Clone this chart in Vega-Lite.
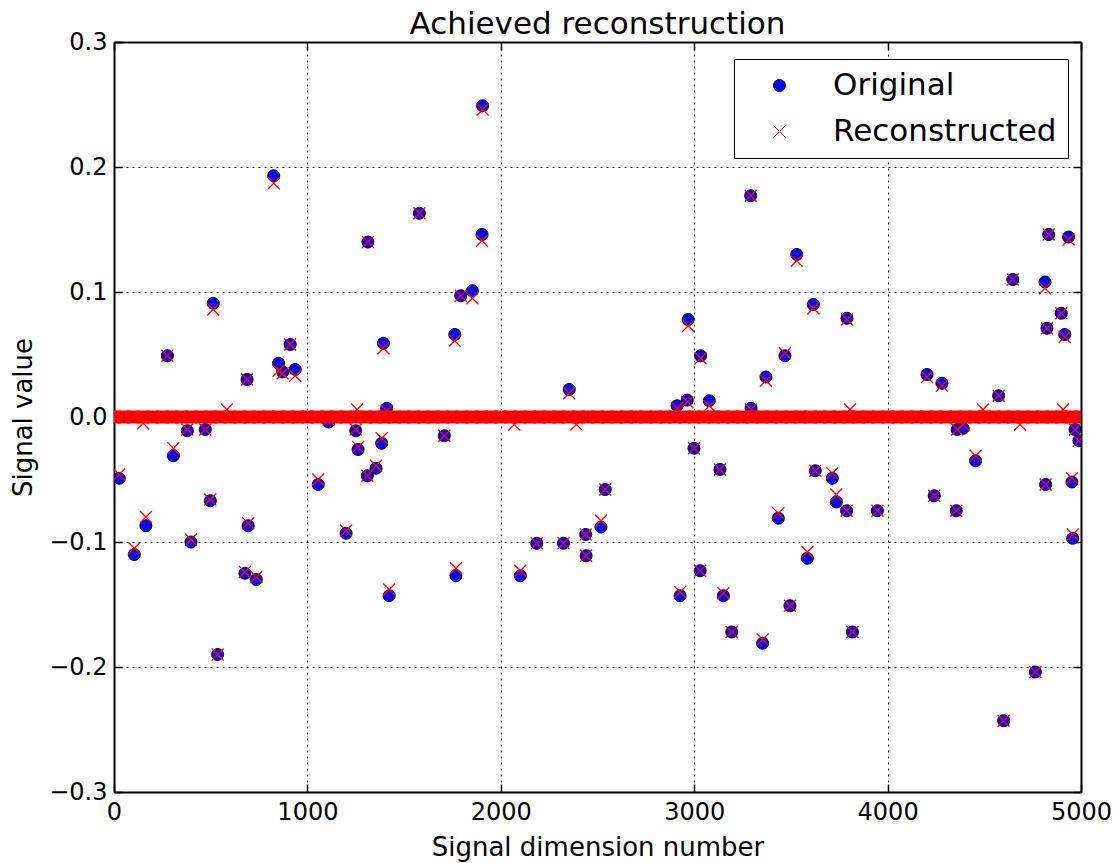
{
  "$schema": "https://vega.github.io/schema/vega-lite/v6.json",
  "autosize": "none",
  "padding": {"left": 114, "top": 42, "right": 38, "bottom": 71},
  "width": 967,
  "height": 750,
  "background": "white",
  "title": {"text": "Achieved reconstruction", "fontSize": 31, "fontWeight": "normal", "color": "black", "offset": -11, "anchor": "middle"},
  "config": {
    "font": "DejaVu Sans",
    "view": {"stroke": null},
    "axis": {
      "domain": true, "domainColor": "black", "domainWidth": 2,
      "grid": true, "gridColor": "black", "gridDash": [2, 4], "gridWidth": 1, "gridOpacity": 1,
      "ticks": true, "tickColor": "black", "tickSize": -8, "tickWidth": 1.5,
      "labelFontSize": 24, "labelColor": "black", "labelFlush": false,
      "titleFontSize": 26, "titleFontWeight": "normal", "titleColor": "black",
      "zindex": 1
    },
    "legend": {
      "orient": "none", "title": null,
      "labelFontSize": 31, "labelColor": "black", "labelLimit": 400,
      "symbolSize": 144, "symbolStrokeWidth": 1, "symbolOffset": 19, "labelOffset": 38,
      "rowPadding": 14, "padding": 11, "strokeColor": "black", "fillColor": "white"
    }
  },
  "datasets": {
    "sig": [
      {"i":27,"o":-0.049,"r":-0.046},
      {"i":105,"o":-0.110,"r":-0.105},
      {"i":151,"r":-0.005},
      {"i":165,"o":-0.087,"r":-0.080},
      {"i":276,"o":0.049,"r":0.049},
      {"i":307,"o":-0.031,"r":-0.025},
      {"i":379,"o":-0.011,"r":-0.010},
      {"i":398,"o":-0.100,"r":-0.098},
      {"i":472,"o":-0.010,"r":-0.010},
      {"i":498,"o":-0.067,"r":-0.066},
      {"i":513,"o":0.091,"r":0.086},
      {"i":536,"o":-0.190,"r":-0.190},
      {"i":583,"r":0.006},
      {"i":677,"o":-0.125,"r":-0.124},
      {"i":688,"o":0.030,"r":0.030},
      {"i":694,"o":-0.087,"r":-0.085},
      {"i":736,"o":-0.130,"r":-0.128},
      {"i":826,"o":0.193,"r":0.187},
      {"i":851,"o":0.043,"r":0.037},
      {"i":872,"o":0.036,"r":0.035},
      {"i":911,"o":0.058,"r":0.058},
      {"i":937,"o":0.038,"r":0.033},
      {"i":1056,"o":-0.054,"r":-0.050},
      {"i":1110,"o":-0.004,"r":-0.002},
      {"i":1200,"o":-0.093,"r":-0.091},
      {"i":1250,"o":-0.011,"r":-0.010},
      {"i":1257,"r":0.006},
      {"i":1262,"o":-0.026,"r":-0.024},
      {"i":1310,"o":-0.047,"r":-0.047},
      {"i":1313,"o":0.140,"r":0.140},
      {"i":1355,"o":-0.041,"r":-0.039},
      {"i":1384,"o":-0.021,"r":-0.017},
      {"i":1393,"o":0.059,"r":0.055},
      {"i":1410,"o":0.007,"r":0.005},
      {"i":1423,"o":-0.143,"r":-0.138},
      {"i":1579,"o":0.163,"r":0.163},
      {"i":1708,"o":-0.015,"r":-0.015},
      {"i":1762,"o":0.066,"r":0.061},
      {"i":1768,"o":-0.127,"r":-0.121},
      {"i":1793,"o":0.097,"r":0.097},
      {"i":1853,"o":0.101,"r":0.095},
      {"i":1903,"o":0.146,"r":0.141},
      {"i":1906,"o":0.249,"r":0.246},
      {"i":2070,"r":-0.006},
      {"i":2101,"o":-0.127,"r":-0.123},
      {"i":2186,"o":-0.101,"r":-0.101},
      {"i":2324,"o":-0.101,"r":-0.101},
      {"i":2354,"o":0.022,"r":0.019},
      {"i":2391,"r":-0.006},
      {"i":2439,"o":-0.094,"r":-0.094},
      {"i":2441,"o":-0.111,"r":-0.111},
      {"i":2518,"o":-0.088,"r":-0.083},
      {"i":2540,"o":-0.058,"r":-0.058},
      {"i":2912,"o":0.009,"r":0.007},
      {"i":2927,"o":-0.143,"r":-0.140},
      {"i":2964,"o":0.0135,"r":0.012},
      {"i":2969,"o":0.078,"r":0.073},
      {"i":2999,"o":-0.025,"r":-0.025},
      {"i":3031,"o":-0.123,"r":-0.123},
      {"i":3033,"o":0.049,"r":0.047},
      {"i":3078,"o":0.013,"r":0.009},
      {"i":3133,"o":-0.042,"r":-0.042},
      {"i":3151,"o":-0.143,"r":-0.141},
      {"i":3194,"o":-0.172,"r":-0.172},
      {"i":3292,"o":0.177,"r":0.177},
      {"i":3294,"o":0.007,"r":0.006},
      {"i":3354,"o":-0.181,"r":-0.178},
      {"i":3371,"o":0.032,"r":0.029},
      {"i":3435,"o":-0.081,"r":-0.077},
      {"i":3469,"o":0.049,"r":0.051},
      {"i":3495,"o":-0.151,"r":-0.151},
      {"i":3530,"o":0.130,"r":0.125},
      {"i":3585,"o":-0.113,"r":-0.108},
      {"i":3616,"o":0.090,"r":0.087},
      {"i":3626,"o":-0.043,"r":-0.043},
      {"i":3714,"o":-0.049,"r":-0.045},
      {"i":3735,"o":-0.068,"r":-0.062},
      {"i":3788,"o":-0.075,"r":-0.075},
      {"i":3790,"o":0.079,"r":0.078},
      {"i":3806,"r":0.006},
      {"i":3818,"o":-0.172,"r":-0.172},
      {"i":3947,"o":-0.075,"r":-0.075},
      {"i":4204,"o":0.034,"r":0.032},
      {"i":4241,"o":-0.063,"r":-0.063},
      {"i":4281,"o":0.027,"r":0.025},
      {"i":4355,"o":-0.075,"r":-0.075},
      {"i":4360,"o":-0.010,"r":-0.010},
      {"i":4391,"o":-0.009,"r":-0.006},
      {"i":4455,"o":-0.035,"r":-0.031},
      {"i":4493,"r":0.006},
      {"i":4574,"o":0.017,"r":0.017},
      {"i":4600,"o":-0.243,"r":-0.243},
      {"i":4647,"o":0.110,"r":0.110},
      {"i":4685,"r":-0.006},
      {"i":4764,"o":-0.204,"r":-0.204},
      {"i":4814,"o":0.108,"r":0.103},
      {"i":4817,"o":-0.054,"r":-0.054},
      {"i":4824,"o":0.071,"r":0.071},
      {"i":4833,"o":0.146,"r":0.146},
      {"i":4898,"o":0.083,"r":0.083},
      {"i":4907,"r":0.006},
      {"i":4916,"o":0.066,"r":0.064},
      {"i":4936,"o":0.144,"r":0.142},
      {"i":4953,"o":-0.052,"r":-0.049},
      {"i":4957,"o":-0.097,"r":-0.094},
      {"i":4969,"o":-0.010,"r":-0.010},
      {"i":4989,"o":-0.019,"r":-0.019}
    ],
    "band": [
      {"i":0,"r":0},{"i":50,"r":0},{"i":100,"r":0},{"i":150,"r":0},{"i":200,"r":0},{"i":250,"r":0},{"i":300,"r":0},{"i":350,"r":0},{"i":400,"r":0},{"i":450,"r":0},
      {"i":500,"r":0},{"i":550,"r":0},{"i":600,"r":0},{"i":650,"r":0},{"i":700,"r":0},{"i":750,"r":0},{"i":800,"r":0},{"i":850,"r":0},{"i":900,"r":0},{"i":950,"r":0},
      {"i":1000,"r":0},{"i":1050,"r":0},{"i":1100,"r":0},{"i":1150,"r":0},{"i":1200,"r":0},{"i":1250,"r":0},{"i":1300,"r":0},{"i":1350,"r":0},{"i":1400,"r":0},{"i":1450,"r":0},
      {"i":1500,"r":0},{"i":1550,"r":0},{"i":1600,"r":0},{"i":1650,"r":0},{"i":1700,"r":0},{"i":1750,"r":0},{"i":1800,"r":0},{"i":1850,"r":0},{"i":1900,"r":0},{"i":1950,"r":0},
      {"i":2000,"r":0},{"i":2050,"r":0},{"i":2100,"r":0},{"i":2150,"r":0},{"i":2200,"r":0},{"i":2250,"r":0},{"i":2300,"r":0},{"i":2350,"r":0},{"i":2400,"r":0},{"i":2450,"r":0},
      {"i":2500,"r":0},{"i":2550,"r":0},{"i":2600,"r":0},{"i":2650,"r":0},{"i":2700,"r":0},{"i":2750,"r":0},{"i":2800,"r":0},{"i":2850,"r":0},{"i":2900,"r":0},{"i":2950,"r":0},
      {"i":3000,"r":0},{"i":3050,"r":0},{"i":3100,"r":0},{"i":3150,"r":0},{"i":3200,"r":0},{"i":3250,"r":0},{"i":3300,"r":0},{"i":3350,"r":0},{"i":3400,"r":0},{"i":3450,"r":0},
      {"i":3500,"r":0},{"i":3550,"r":0},{"i":3600,"r":0},{"i":3650,"r":0},{"i":3700,"r":0},{"i":3750,"r":0},{"i":3800,"r":0},{"i":3850,"r":0},{"i":3900,"r":0},{"i":3950,"r":0},
      {"i":4000,"r":0},{"i":4050,"r":0},{"i":4100,"r":0},{"i":4150,"r":0},{"i":4200,"r":0},{"i":4250,"r":0},{"i":4300,"r":0},{"i":4350,"r":0},{"i":4400,"r":0},{"i":4450,"r":0},
      {"i":4500,"r":0},{"i":4550,"r":0},{"i":4600,"r":0},{"i":4650,"r":0},{"i":4700,"r":0},{"i":4750,"r":0},{"i":4800,"r":0},{"i":4850,"r":0},{"i":4900,"r":0},{"i":4950,"r":0},
      {"i":5000,"r":0}
    ]
  },
  "layer": [
    {
      "data": {"name": "sig"},
      "transform": [{"filter": {"field": "o", "valid": true}}],
      "mark": {"type": "point", "filled": true, "strokeWidth": 1, "size": 144, "opacity": 1, "clip": true},
      "encoding": {
        "x": {"field": "i", "type": "quantitative", "scale": {"domain": [0, 5000], "nice": false, "zero": false},
              "axis": {"orient": "bottom", "values": [0, 1000, 2000, 3000, 4000, 5000], "format": "d", "title": "Signal dimension number", "labelPadding": 16, "titlePadding": 10}},
        "y": {"field": "o", "type": "quantitative", "scale": {"domain": [-0.3, 0.3], "nice": false, "zero": false},
              "axis": {"orient": "left", "values": [-0.3, -0.2, -0.1, 0, 0.1, 0.2, 0.3], "format": ".1f", "title": "Signal value", "labelPadding": 15, "titlePadding": 12}},
        "shape": {"datum": "Original", "type": "nominal",
                  "scale": {"domain": ["Original", "Reconstructed"], "range": ["circle", "M-1,-1L1,1M-1,1L1,-1"]},
                  "legend": {"legendX": 620, "legendY": 17,
                             "encode": {
                               "symbols": {
                                 "fill": {"value": {"expr": "datum.value === 'Original' ? '#0000ff' : 'transparent'"}},
                                 "stroke": {"value": {"expr": "datum.value === 'Original' ? '#000000' : '#ff0000'"}}
                               },
                               "legend": {"strokeWidth": {"value": 2}}
                             }}},
        "fill": {"datum": "Original", "type": "nominal",
                 "scale": {"domain": ["Original", "Reconstructed"], "range": ["#0000ff", "transparent"]},
                 "legend": {"legendX": 620, "legendY": 17,
                             "encode": {
                               "symbols": {
                                 "fill": {"value": {"expr": "datum.value === 'Original' ? '#0000ff' : 'transparent'"}},
                                 "stroke": {"value": {"expr": "datum.value === 'Original' ? '#000000' : '#ff0000'"}}
                               },
                               "legend": {"strokeWidth": {"value": 2}}
                             }}},
        "stroke": {"datum": "Original", "type": "nominal",
                 "scale": {"domain": ["Original", "Reconstructed"], "range": ["#000000", "#ff0000"]},
                 "legend": {"legendX": 620, "legendY": 17,
                             "encode": {
                               "symbols": {
                                 "fill": {"value": {"expr": "datum.value === 'Original' ? '#0000ff' : 'transparent'"}},
                                 "stroke": {"value": {"expr": "datum.value === 'Original' ? '#000000' : '#ff0000'"}}
                               },
                               "legend": {"strokeWidth": {"value": 2}}
                             }}}
      }
    },
    {
      "data": {"name": "band"},
      "mark": {"type": "point", "shape": "square", "filled": true, "fill": "#ff0000", "strokeWidth": 0, "size": 169, "opacity": 1, "clip": true},
      "encoding": {
        "x": {"field": "i", "type": "quantitative", "axis": null},
        "y": {"field": "r", "type": "quantitative", "axis": null}
      }
    },
    {
      "data": {"name": "sig"},
      "transform": [{"filter": {"field": "r", "valid": true}}],
      "mark": {"type": "point", "filled": true, "strokeWidth": 1.2, "size": 144, "opacity": 1, "clip": true},
      "encoding": {
        "x": {"field": "i", "type": "quantitative",
              "axis": {"orient": "top", "values": [0, 1000, 2000, 3000, 4000, 5000], "labels": false, "title": null, "grid": false}},
        "y": {"field": "r", "type": "quantitative",
              "axis": {"orient": "right", "values": [-0.3, -0.2, -0.1, 0, 0.1, 0.2, 0.3], "labels": false, "title": null, "grid": false}},
        "shape": {"datum": "Reconstructed", "type": "nominal"},
        "fill": {"datum": "Reconstructed", "type": "nominal"},
        "stroke": {"datum": "Reconstructed", "type": "nominal"}
      }
    }
  ]
}
